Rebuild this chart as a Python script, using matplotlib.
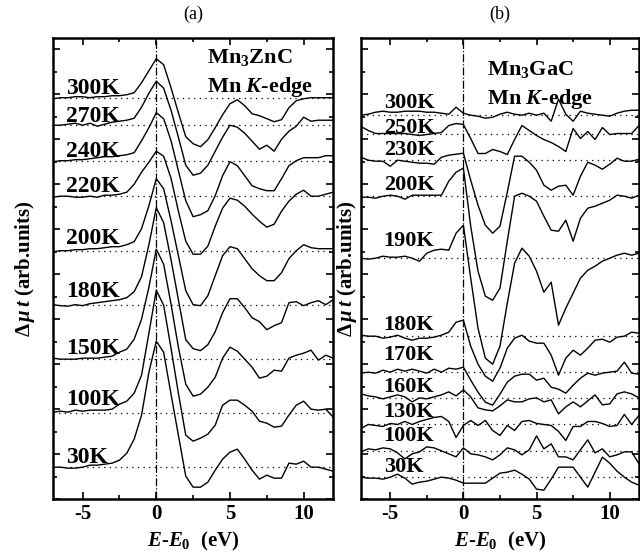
import matplotlib
matplotlib.use('Agg')
import matplotlib.pyplot as plt
from matplotlib.ticker import MultipleLocator

plt.rcParams['font.family'] = ['Liberation Serif', 'DejaVu Serif']
plt.rcParams['font.weight'] = 'bold'
plt.rcParams['axes.labelweight'] = 'bold'
plt.rcParams['mathtext.fontset'] = 'custom'
plt.rcParams['mathtext.rm'] = 'Liberation Serif:bold'
plt.rcParams['mathtext.it'] = 'Liberation Serif:italic:bold'
plt.rcParams['mathtext.bf'] = 'Liberation Serif:bold'
plt.rcParams['axes.unicode_minus'] = False

# energy grid (eV)
energy = [-7, -6.5, -6, -5.5, -5, -4.5, -4, -3.5, -3, -2.5,
          -2, -1.5, -1, -0.5, 0, 0.5, 1, 1.5, 2, 2.5,
          3, 3.5, 4, 4.5, 5, 5.5, 6, 6.5, 7, 7.5,
          8, 8.5, 9, 9.5, 10, 10.5, 11, 11.5, 12]

# (a) Mn3ZnC  -- difference spectra (arb. units)
temps_a = ['300K', '270K', '240K', '220K', '200K', '180K', '150K', '100K', '30K']
offsets_a = [401.5, 374, 338.5, 303, 248.5, 194.5, 140, 86, 32]
zn_300 = [-1,0,0,1,1,0,1,1,2,2, 3,5,15,27,39,33,10,-15,-39,-46, -49,-42,-30,-17,-6,-2,-8,-16,-18,-21, -24,-22,-10,-3,-1,0,0,0,0]
zn_270 = [0,0,1,2,0,2,-1,1,3,4, 5,7,18,32,44,37,15,-12,-40,-50, -48,-40,-26,-12,0,-2,-8,-16,-24,-20, -26,-14,-6,-1,8,4,5,5,5]
zn_240 = [-1,0,0,1,1,2,3,4,4,5, 6,8,20,33,48,42,20,-10,-40,-56, -54,-50,-35,-15,-1,-5,-15,-25,-28,-30, -30,-18,-5,0,3,3,3,5,5]
zn_220 = [-1,0,0,-1,-1,0,-1,1,1,2, 4,12,24,34,45,40,18,-15,-45,-58, -58,-50,-30,-12,-2,-4,-10,-18,-25,-31, -28,-15,-5,2,6,0,0,2,4]
zn_200 = [-1,0,0,1,1,2,2,3,4,4, 6,9,22,45,72,62,30,-5,-40,-54, -55,-45,-25,-5,4,2,-8,-18,-25,-30, -30,-22,-8,0,6,3,2,2,2]
zn_180 = [0,-1,-1.5,0,-1,1,2,3,4,5, 7,13,28,60,97,82,45,5,-35,-44, -46,-40,-27,-8,6,6,-3,-13,-17,-25, -21,-18,2,3,-1,2,4,0,5]
zn_150 = [1,0,0,0,1,1,1,2,3,7, 10,20,40,72,110,95,55,12,-25,-37, -35,-28,-18,1,12,8,0,-8,-19,-17, -11,-12,1,4,6,9,-1,4,1]
zn_100 = [1,2,1,3,2,3,3,3,4,9, 12,20,38,80,123,108,65,20,-22,-28, -25,-21,-12,8,13,13,8,2,-8,-10, -14,-13,-2,8,12,4,3,4,-4]
zn_30 = [0,0,-1,-1,0,2,2,3,4,7, 14,28,52,95,126,115,73,32,-9,-20, -20,-15,-3,8,15,18,8,-3,-12,-8, -11,-11,4,3,6,0,0,-2,-4]
curves_a = [zn_300, zn_270, zn_240, zn_220, zn_200, zn_180, zn_150, zn_100, zn_30]

# (b) Mn3GaC
temps_b = ['300K', '250K', '230K', '200K', '190K', '180K', '170K', '160K', '130K', '100K', '30K']
offsets_b = [384, 365.7, 339, 303, 241, 163, 127, 101.3, 74.7, 48.3, 22]
ga_300 = [0,1,3,4,3,3,4,4,4,3, 3,2,1,8,2,0,-1,-3,-2,1, 3,1,0,2,0,2,-6,16,1,-6, 4,2,1,0,-1,2,4,5,5]
ga_250 = [7,3,0,0,0,0,0,-1,-2,-1, 0,1,8,10,9,-5,-20,-20,-16,-18, -21,-6,8,3,-2,-6,-9,-13,-18,5, -5,2,-6,6,-1,0,0,0,8]
ga_230 = [3,0,-1,-1,-6,0,-1,-2,-3,-3, -4,3,5,6,7,-20,-45,-65,-73,-66, -32,4,4,-2,-10,-25,-30,-26,-25,-35, -16,-2,-5,-9,-4,2,-1,-1,1]
ga_200 = [-1,-1,-2,0,1,0,-3,1,1,1, 1,1,15,24,28,-30,-75,-100,-104,-92, -45,0,3,0,-5,-20,-34,-35,-24,-45, -22,-12,-10,-7,-4,1,0,-2,1]
ga_190 = [0,-1,0,2,1,1,2,0,-3,5, 8,9,8,25,33,-20,-70,-100,-106,-88, -45,-5,10,2,-13,-34,-24,-67,-50,-35, -20,-12,-8,-3,0,3,5,3,5]
ga_180 = [1,0,0,-2,-1,1,-2,-4,-2,-2, -1,1,4,14,16,-10,-28,-40,-45,-32, -12,-2,1,-5,-7,-7,-19,-39,-22,-14, -19,-12,-4,-3,-6,-1,0,4,3]
ga_170 = [-1,0,-1,2,0,3,1,3,1,-1, 3,0,4,3,5,-8,-20,-30,-33,-22, -10,-4,-2,-2,-8,-6,-15,-17,-21,-13, -6,-1,-3,-1,0,1,10,-1,-2]
ga_160 = [4,2,1,-1,1,3,1,-4,0,-1, 1,3,6,2,8,1,-10,-12,-13,-8, -2,-4,-4,-1,0,-4,-2,-16,-9,-4, -9,-3,3,-7,-6,4,6,4,0]
ga_130 = [-4,0,-1,-2,1,0,3,0,3,5, 7,8,3,-13,-1,4,-1,4,-6,-11, -1,-6,3,4,1,0,-1,-7,-16,-2, -2,3,3,1,-2,-1,10,0,9]
ga_100 = [-1,2,1,3,2,-2,-8,-3,-1,4, 3,0,-3,-6,3,-3,-4,-6,-9,-4, 3,1,-4,1,15,2,7,-6,-6,-9, 1,11,-2,2,-6,-4,-1,-1,-13]
ga_30 = [0,-1,-1,-2,0,3,-1,-7,-5,-4, -2,0,-1,-3,-6,-6,-6,-6,-1,4, 5,7,3,-2,-12,-13,-2,10,10,10, 0,-10,5,20,14,6,0,-5,-8]
curves_b = [ga_300, ga_250, ga_230, ga_200, ga_190, ga_180, ga_170, ga_160, ga_130, ga_100, ga_30]

# how far each temperature label sits above its dotted line
lift_a = [4, 3, 4, 4, 7, 8, 5, 8, 4]
lift_b = [7, 1, 5, 6, 12, 6, 12, 6, 7, 10, 5]

fig = plt.figure(figsize=(6.4, 5.54), dpi=100)
ax_a = fig.add_axes([0.083, 0.099, 0.4375, 0.832])
ax_b = fig.add_axes([0.564, 0.099, 0.4344, 0.832])


def draw_panel(ax, curves, offsets, temps, lifts, label_x, fs, title, compound, cx, cy, ypad):
    for y, off, t, lf in zip(curves, offsets, temps, lifts):
        ax.axhline(off, color='k', lw=0.9, ls=(0, (1, 3.5)), zorder=1)
        ax.plot(energy, [v + off for v in y], color='k', lw=1.0, zorder=3)
        ax.text(label_x, off + lf, t, fontsize=fs, ha='left', va='baseline', zorder=4)
    ax.axvline(0, color='k', lw=0.9, ls='-.', zorder=2)
    ax.set_xlim(-7, 12)
    ax.set_ylim(0, 461)
    ax.xaxis.set_major_locator(MultipleLocator(5))
    ax.xaxis.set_minor_locator(MultipleLocator(2.5))
    ax.yaxis.set_major_locator(MultipleLocator(45))
    ax.yaxis.set_minor_locator(MultipleLocator(22.5))
    ax.tick_params(which='both', direction='in', top=True, right=True, width=1.2)
    ax.tick_params(which='major', length=5, labelsize=15)
    ax.tick_params(which='minor', length=3)
    ax.set_yticklabels([])
    for s in ax.spines.values():
        s.set_linewidth(1.8)
    ax.set_title(title, fontsize=13, fontweight='normal', pad=14)
    ax.set_xlabel(r'$E$-$E_0$  (eV)', fontsize=15, fontweight='bold', labelpad=4)
    ax.set_ylabel(r'$\Delta\,\mu\,t$ (arb.units)', fontsize=15, fontweight='bold',
                  labelpad=ypad)
    ax.text(cx, cy, compound, transform=ax.transAxes, fontsize=16, ha='left', va='baseline')
    ax.text(cx, cy - 0.062, r'Mn $K$-edge', transform=ax.transAxes, fontsize=16,
            ha='left', va='baseline')


draw_panel(ax_a, curves_a, offsets_a, temps_a, lift_a, -6.1, 17, '(a)',
           r'Mn$_3$ZnC', 0.549, 0.946, 8)
draw_panel(ax_b, curves_b, offsets_b, temps_b, lift_b, -5.45, 16, '(b)',
           r'Mn$_3$GaC', 0.454, 0.92, -2)

fig.savefig('out.png', dpi=100)
